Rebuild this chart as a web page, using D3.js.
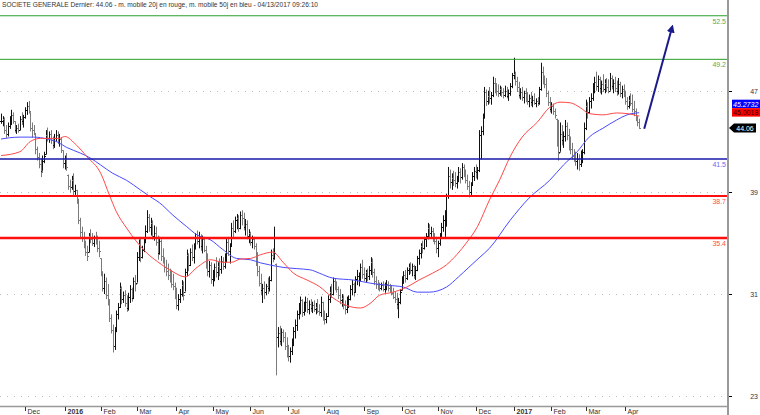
<!DOCTYPE html>
<html><head><meta charset="utf-8">
<script src="https://cdn.jsdelivr.net/npm/d3@7"></script>
<style>body{margin:0;background:#fff}svg{display:block}text{font-family:"Liberation Sans",Arial,sans-serif}</style>
</head><body><svg id="c" width="760" height="415"></svg>
<script>
const title = "SOCIETE GENERALE Dernier: 44.06 - m. mobile 20j en rouge, m. mobile 50j en bleu - 04/13/2017 09:26:10";
const high = [
45.2,45.0,44.9,44.3,44.5,45.0,45.5,45.3,44.6,44.3,
44.4,45.0,45.3,45.1,45.7,46.1,46.2,45.3,44.5,44.3,
43.6,42.6,42.1,41.7,41.9,42.2,43.9,44.1,43.8,43.9,
43.4,43.6,43.9,43.8,43.6,43.3,42.3,41.9,42.1,40.4,
40.0,40.3,40.5,39.6,39.2,38.5,37.0,36.3,35.9,35.2,
34.8,35.8,36.1,35.8,35.6,35.9,35.6,35.2,33.8,32.8,
32.6,32.3,31.8,30.6,29.4,28.6,28.4,29.7,30.3,31.9,
31.6,31.2,31.3,30.9,31.1,31.7,31.5,32.3,32.5,34.3,
35.3,35.5,34.8,35.4,36.4,37.6,37.3,37.0,36.8,36.4,
36.3,35.6,35.5,35.3,34.6,33.9,33.7,33.4,33.0,32.9,
32.6,31.9,31.5,31.0,31.4,32.1,32.0,33.0,34.5,34.2,
34.6,34.9,35.0,35.8,36.0,35.9,35.7,35.6,35.5,34.8,
34.2,33.6,33.5,32.9,33.4,33.9,33.5,33.8,34.0,33.9,
34.2,35.4,35.5,35.0,36.6,36.8,37.1,37.3,37.2,37.5,
37.6,37.4,36.9,36.8,36.1,35.9,35.6,35.5,35.0,34.3,
33.2,32.6,31.8,32.0,31.8,32.3,32.4,34.5,34.6,36.3,
33.4,28.4,28.5,28.3,28.2,28.0,27.6,27.0,26.8,27.5,
28.4,29.0,29.7,30.3,30.8,30.6,30.4,30.8,30.7,30.5,
30.6,30.4,30.5,30.3,30.6,30.2,30.8,30.4,29.7,29.5,
30.9,31.6,31.8,32.3,32.2,32.0,31.6,31.4,31.0,30.9,
30.5,30.8,30.9,31.7,32.1,31.9,32.4,32.9,32.7,33.4,
33.7,33.1,32.9,33.0,33.2,33.9,33.8,33.0,32.4,32.1,
31.9,31.9,32.0,31.9,32.1,32.0,31.8,31.7,31.5,31.2,
31.1,30.7,31.4,32.4,32.8,32.9,33.1,33.4,33.5,33.4,
33.3,33.2,34.0,34.5,35.0,35.2,35.5,35.8,36.6,36.5,
36.3,36.2,35.8,35.5,35.2,35.8,36.6,37.2,37.6,38.9,
41.0,40.8,40.5,40.7,40.6,40.3,41.0,40.9,41.3,41.2,
40.8,40.4,39.9,39.8,40.6,41.0,41.2,41.0,43.9,44.2,
45.2,47.3,47.1,47.0,47.3,46.9,48.1,48.0,47.6,47.5,
47.4,47.3,47.2,47.4,47.3,47.1,47.6,48.4,49.6,48.5,
48.1,47.7,47.2,47.3,47.0,47.2,46.9,46.7,46.9,46.6,
46.8,46.4,46.5,47.3,49.2,48.9,48.2,48.0,47.0,46.5,
46.1,46.0,45.6,44.8,44.7,44.5,44.3,43.8,44.7,44.5,
44.0,43.4,42.9,42.4,42.2,42.1,42.0,42.3,42.4,44.5,
46.3,46.1,46.5,46.8,47.6,48.1,48.5,48.2,48.1,47.8,
48.3,47.9,48.0,47.9,48.4,48.2,47.9,48.1,47.8,48.0,
47.7,47.4,47.5,47.0,46.5,46.6,46.8,46.7,46.2,45.6,
45.0,44.8];
const low = [
44.4,44.2,43.6,43.3,43.4,44.0,44.3,44.4,43.7,43.6,
43.7,43.9,44.3,44.1,44.8,45.1,45.2,43.8,43.3,43.5,
42.0,41.5,40.9,40.2,40.7,41.3,42.0,43.0,42.9,42.8,
42.4,42.5,43.0,42.8,42.6,42.1,40.9,40.8,40.7,39.2,
39.0,39.2,38.8,38.8,38.1,36.5,35.4,35.1,34.6,34.0,
33.6,34.3,35.0,34.8,34.7,34.9,34.3,33.9,32.4,31.2,
31.0,30.6,30.1,28.8,27.9,26.4,26.6,28.0,29.0,29.9,
30.2,30.3,30.0,29.6,29.7,30.3,30.4,30.6,31.2,31.9,
33.6,33.5,33.8,34.3,35.0,35.8,35.9,35.6,35.3,35.2,
34.8,33.7,34.1,33.6,33.4,32.7,32.4,32.1,31.9,31.5,
31.3,30.6,29.8,29.7,30.3,30.8,30.5,31.2,32.4,32.8,
33.2,33.6,33.4,34.5,34.9,34.6,34.4,34.2,34.3,33.0,
32.4,32.3,31.8,31.6,32.0,32.3,32.1,32.4,32.6,32.9,
33.0,33.5,34.0,33.4,34.7,35.4,35.8,36.1,35.9,36.1,
36.4,36.0,35.6,35.3,35.0,34.8,34.6,34.5,33.2,32.4,
31.6,30.9,30.3,30.6,30.9,31.0,31.2,32.0,33.5,33.7,
24.6,26.8,27.0,26.9,27.2,26.6,26.0,25.7,25.6,26.2,
26.9,27.5,28.1,29.0,29.4,29.2,29.3,29.6,29.5,29.4,
29.6,29.5,29.6,29.4,29.5,29.3,29.2,28.9,28.6,28.7,
29.2,30.3,30.7,30.9,31.3,31.1,30.6,30.2,30.0,29.8,
29.4,29.5,29.9,30.5,30.9,30.8,31.1,31.7,31.6,32.0,
32.2,32.0,31.9,32.0,32.1,32.5,32.3,31.7,31.4,31.3,
31.2,31.3,31.2,31.1,31.3,31.2,31.1,30.9,30.6,30.3,
29.8,29.1,30.2,31.3,31.8,31.9,32.1,32.5,32.6,32.4,
32.2,32.1,32.8,33.3,33.8,34.2,34.5,34.7,35.3,35.4,
35.5,35.1,34.9,34.2,33.9,34.8,35.4,35.9,35.5,36.3,
38.5,39.3,39.2,39.5,39.4,39.3,39.8,39.7,40.0,40.2,
39.7,39.2,38.6,38.7,39.5,39.9,40.1,40.0,40.6,41.6,
43.5,44.8,45.8,45.9,46.0,45.9,46.5,46.8,46.6,46.5,
46.6,46.5,46.4,46.5,46.4,46.2,46.6,47.2,47.9,47.4,
46.9,46.4,46.3,46.2,46.0,46.1,45.9,45.7,45.8,45.7,
45.9,45.7,45.8,45.9,47.0,47.5,47.2,46.5,45.8,45.3,
45.2,45.1,44.8,42.6,41.5,42.2,42.7,42.5,43.0,43.1,
42.3,42.0,41.6,41.4,41.1,40.8,40.7,41.0,41.3,42.0,
43.9,44.8,45.2,45.6,46.2,46.8,47.0,46.9,46.8,46.7,
46.9,46.8,46.9,46.8,47.0,47.1,46.8,46.9,46.6,46.7,
46.5,46.4,46.5,45.9,45.5,45.6,45.8,45.3,45.0,44.6,
44.2,44.0];
const close = [
44.6,44.8,43.9,43.6,44.2,44.7,45.1,44.6,43.9,44.1,
43.9,44.8,44.6,44.9,45.5,45.8,45.4,44.1,43.9,43.7,
42.4,41.8,41.2,40.6,41.5,41.9,43.5,43.3,43.6,43.1,
42.7,43.3,43.5,43.0,43.2,42.3,41.3,41.6,41.0,39.5,
39.4,40.0,39.1,39.2,38.4,36.8,35.9,35.5,35.0,34.3,
34.0,35.6,35.3,35.0,35.4,35.2,34.6,34.4,32.7,31.5,
32.0,30.9,30.4,29.1,28.2,26.9,28.1,29.4,30.0,31.5,
30.6,30.9,30.3,29.9,30.8,31.4,30.7,32.0,31.8,33.9,
34.9,33.9,34.5,35.1,36.0,37.1,36.3,36.6,35.6,35.8,
35.1,34.2,35.2,34.0,33.8,33.1,32.8,32.5,32.2,31.8,
31.6,30.9,30.1,30.6,31.0,31.7,30.9,32.7,34.1,33.3,
34.3,33.9,34.7,35.5,35.2,35.6,34.8,35.3,34.5,33.4,
32.8,33.3,32.2,32.6,33.1,32.7,33.2,33.0,33.6,33.2,
34.0,35.1,34.4,34.8,36.2,36.0,36.8,37.0,36.2,37.2,
37.0,36.3,36.5,35.6,35.8,35.1,35.3,34.8,33.6,32.8,
31.9,31.3,31.5,31.2,31.6,31.5,32.1,34.1,33.8,34.2,
27.6,27.9,27.3,28.0,27.6,26.9,26.3,26.1,26.5,27.2,
28.1,28.6,29.4,29.9,30.5,29.6,30.1,30.4,29.8,30.2,
29.9,30.1,29.8,30.0,29.7,29.6,30.4,29.2,29.0,29.3,
30.6,31.2,31.0,32.0,31.6,31.4,30.9,30.5,30.7,30.1,
29.8,30.4,30.6,31.4,31.8,31.2,32.2,32.4,32.5,33.1,
32.6,32.3,32.7,32.4,32.9,33.5,32.7,32.0,31.8,31.6,
31.5,31.7,31.4,31.6,31.8,31.5,31.3,31.1,30.8,30.6,
30.2,30.4,31.2,32.1,32.5,32.3,32.9,33.1,32.9,33.2,
32.5,32.9,33.8,34.2,34.8,34.6,35.3,35.6,36.2,35.8,
36.0,35.5,35.2,34.6,35.0,35.5,36.3,36.8,37.3,38.7,
40.3,39.8,40.1,40.0,39.7,40.1,40.6,40.2,41.0,40.5,
40.0,39.5,39.0,39.6,40.3,40.7,40.6,40.8,43.5,43.8,
44.9,46.9,46.2,46.6,46.4,46.7,47.6,47.2,47.0,46.8,
47.1,46.9,46.7,47.0,46.6,46.8,47.4,48.2,48.3,47.8,
47.3,46.7,46.9,46.5,46.8,46.4,46.2,46.4,46.1,46.3,
46.0,46.2,46.0,47.1,48.5,47.9,47.5,46.8,46.1,45.6,
45.8,45.4,45.1,43.0,42.1,43.6,43.1,43.4,44.2,43.5,
42.8,42.4,41.9,41.7,41.5,41.6,41.2,41.9,42.2,44.1,
45.8,45.3,46.2,46.4,47.3,47.7,47.4,47.9,47.2,47.5,
47.1,47.6,47.3,47.0,48.0,47.4,47.6,47.2,47.0,47.5,
46.8,47.1,46.7,46.2,45.8,46.3,46.0,45.6,45.4,44.9,
44.5,44.06];

// moving averages (bar index -> value)
const ma20Idx = [0,11,17,23,34,37,44,50,58,63,67,73,79,85,91,100,107,114,122,129,134,139,145,151,158,164,170,178,185,193,201,209,215,220,228,236,243,251,259,265,271,277,284,290,296,303,312,319,325,331,337,342,350,358,364,371];
const ma20Val = [41.9,42.2,43.0,43.25,43.25,43.4,42.7,41.8,40.5,38.8,37.5,36.2,35.1,34.2,33.55,32.75,32.35,33.1,33.7,33.5,33.5,33.75,33.8,34.1,34.3,33.5,32.65,32.1,31.6,30.7,30.1,29.9,30.3,30.9,31.15,31.55,32.1,32.65,33.3,34.1,35.1,36.3,38.4,40.0,41.8,43.35,44.55,45.7,46.1,46.05,45.65,45.2,45.1,45.25,45.2,45.0];
const ma50Idx = [0,5,11,19,27,33,38,46,52,58,65,73,81,88,92,100,108,114,122,129,137,145,151,156,164,172,180,185,193,205,215,224,234,242,249,259,266,272,278,284,296,307,319,327,335,342,350,358,364,371];
const ma50Val = [43.2,43.3,43.35,43.35,43.2,42.95,42.55,42.1,41.7,41.15,40.5,39.95,39.2,38.55,38.2,37.2,36.3,35.65,35.25,34.5,33.8,33.7,33.45,33.3,33.1,33.0,32.9,32.65,32.25,32.1,31.85,31.7,31.55,31.15,31.15,31.55,32.35,33.1,33.85,34.6,36.8,38.55,39.95,41.15,42.2,43.35,44.05,44.7,45.1,45.27];

const levelValues = [52.9, 49.47, 41.63, 38.72, 35.42];
const levelLabels = ["52.5", "49.2", "41.5", "38.7", "35.4"];
const yTicks = [23, 31, 39, 47];
const monthLabels = ["Dec","2016","Feb","Mar","Apr","May","Jun","Jul","Aug","Sep","Oct","Nov","Dec","2017","Feb","Mar","Apr"];
const tagValues = [45.2732, 45.0018, 44.06];
const tagLabels = ["45.2732", "45.0018", "44.06"];
const arrowIdx = [374, 390];
const arrowVal = [44.0, 51.9];

// ---- styles ----
const levelStyle = [
  {line:"#2a9e2a", text:"#5aa85a", w:1},
  {line:"#2a9e2a", text:"#5aa85a", w:1},
  {line:"#1818a8", text:"#6a6af0", w:1.5},
  {line:"#ff1010", text:"#ff4a4a", w:2},
  {line:"#ff1010", text:"#ff4a4a", w:2.5}
];

const svg = d3.select("#c");
const plotRight = 728, axisY = 406;
const n = Math.min(high.length, low.length, close.length);
const x = d3.scaleLinear().domain([0, 422.7]).range([1, plotRight]);
const y = d3.scaleLinear().domain([22.19, 54.14]).range([axisY, 0]);

// trading dates (weekdays) starting 11 Nov 2015
const dates = [];
{ let d = new Date(2015, 10, 11);
  while (dates.length < n) { if (d.getDay() % 6 !== 0) dates.push(new Date(d)); d.setDate(d.getDate() + 1); } }
const monthStarts = [];
for (let i = 1; i < n; i++) if (dates[i].getMonth() !== dates[i-1].getMonth()) monthStarts.push(i);

// title
svg.append("text").attr("x", 2).attr("y", 7).attr("font-size", 6.6).attr("fill", "#333")
  .attr("textLength", 316).attr("lengthAdjust", "spacingAndGlyphs").text(title);

// grid
const g = svg.append("g");
g.selectAll(".grid").data(yTicks).join("line")
  .attr("x1", 0).attr("x2", plotRight)
  .attr("y1", d => Math.round(y(d)) + 0.5).attr("y2", d => Math.round(y(d)) + 0.5)
  .attr("stroke", "#bbb").attr("stroke-dasharray", "1,6");

// bars
const bars = g.append("g");
for (let i = 0; i < n; i++) {
  const xi = Math.round(x(i)) + 0.5;
  const open = i > 0 ? Math.max(low[i], Math.min(high[i], close[i-1])) : close[i];
  const col = close[i] >= open ? "#111" : "#7a7a7a";
  bars.append("line").attr("x1", xi).attr("x2", xi).attr("y1", y(high[i])).attr("y2", y(low[i]))
    .attr("stroke", col).attr("stroke-width", 1);
  bars.append("line").attr("x1", xi - 1.5).attr("x2", xi).attr("y1", Math.round(y(open)) + 0.5).attr("y2", Math.round(y(open)) + 0.5)
    .attr("stroke", col).attr("stroke-width", 1);
  bars.append("line").attr("x1", xi).attr("x2", xi + 1.5).attr("y1", Math.round(y(close[i])) + 0.5).attr("y2", Math.round(y(close[i])) + 0.5)
    .attr("stroke", col).attr("stroke-width", 1);
}

// moving averages
const line = d3.line().x(d => x(d[0])).y(d => y(d[1])).curve(d3.curveMonotoneX);
g.append("path").attr("d", line(ma50Idx.map((v, k) => [v, ma50Val[k]])))
  .attr("fill", "none").attr("stroke", "#4a4aff").attr("stroke-width", 1);
g.append("path").attr("d", line(ma20Idx.map((v, k) => [v, ma20Val[k]])))
  .attr("fill", "none").attr("stroke", "#ff4848").attr("stroke-width", 1);

// levels
levelValues.forEach((v, k) => {
  const yy = y(v);
  g.append("line").attr("x1", 0).attr("x2", plotRight).attr("y1", yy).attr("y2", yy)
    .attr("stroke", levelStyle[k].line).attr("stroke-width", levelStyle[k].w);
  g.append("text").attr("x", plotRight - 2).attr("y", yy + 8).attr("text-anchor", "end")
    .attr("font-size", 7).attr("fill", levelStyle[k].text).text(levelLabels[k]);
});

// arrow
svg.append("defs").append("marker").attr("id", "ah").attr("viewBox", "0 0 10 10")
  .attr("refX", 5).attr("refY", 5).attr("markerWidth", 4).attr("markerHeight", 4).attr("orient", "auto")
  .append("path").attr("d", "M0,0 L10,5 L0,10 z").attr("fill", "#1a1a8a");
svg.append("line").attr("x1", x(arrowIdx[0])).attr("y1", y(arrowVal[0]))
  .attr("x2", x(arrowIdx[1])).attr("y2", y(arrowVal[1]))
  .attr("stroke", "#1a1a8a").attr("stroke-width", 2).attr("marker-end", "url(#ah)");

// axes
svg.append("line").attr("x1", 0).attr("x2", plotRight).attr("y1", axisY + 0.5).attr("y2", axisY + 0.5)
  .attr("stroke", "#999").attr("stroke-width", 1.5);
svg.append("line").attr("x1", plotRight).attr("x2", plotRight).attr("y1", 0).attr("y2", 415)
  .attr("stroke", "#999").attr("stroke-width", 2);
yTicks.forEach(v => {
  const yy = Math.round(y(v)) + 0.5;
  svg.append("line").attr("x1", plotRight + 1).attr("x2", plotRight + 4).attr("y1", yy).attr("y2", yy).attr("stroke", "#000");
  svg.append("text").attr("x", 758).attr("y", yy + 2.5).attr("text-anchor", "end")
    .attr("font-size", 7).attr("fill", "#333344").text(v);
});
monthStarts.forEach((i, k) => {
  const xi = Math.round(x(i)) + 0.5;
  svg.append("line").attr("x1", xi).attr("x2", xi).attr("y1", axisY + 1).attr("y2", axisY + 5).attr("stroke", "#333");
  svg.append("text").attr("x", xi + 2).attr("y", 413.5).attr("font-size", 7)
    .attr("font-weight", /^\d/.test(monthLabels[k]) ? "bold" : "normal")
    .attr("fill", "#333").text(monthLabels[k]);
});

// value tags
const yB = y(tagValues[0]) - 13, yR = y(tagValues[1]) - 8, yL = y(tagValues[2]);
svg.append("rect").attr("x", 732).attr("y", yB).attr("width", 28).attr("height", 8.5).attr("fill", "#0000ff");
svg.append("text").attr("x", 733).attr("y", yB + 7).attr("font-size", 7).attr("font-style", "italic").attr("fill", "#fff").text(tagLabels[0]);
svg.append("rect").attr("x", 732).attr("y", yR).attr("width", 28).attr("height", 8.5).attr("fill", "#ff0000");
svg.append("text").attr("x", 733).attr("y", yR + 7).attr("font-size", 7).attr("fill", "#300").text(tagLabels[1]);
svg.append("polygon").attr("points", [[729, yL], [734, yL - 4.5], [756, yL - 4.5], [756, yL + 4.5], [734, yL + 4.5]].map(p => p.join(",")).join(" "))
  .attr("fill", "#000");
svg.append("text").attr("x", 745).attr("y", yL + 2.5).attr("text-anchor", "middle").attr("font-size", 7).attr("fill", "#fff").text(tagLabels[2]);
</script></body></html>
